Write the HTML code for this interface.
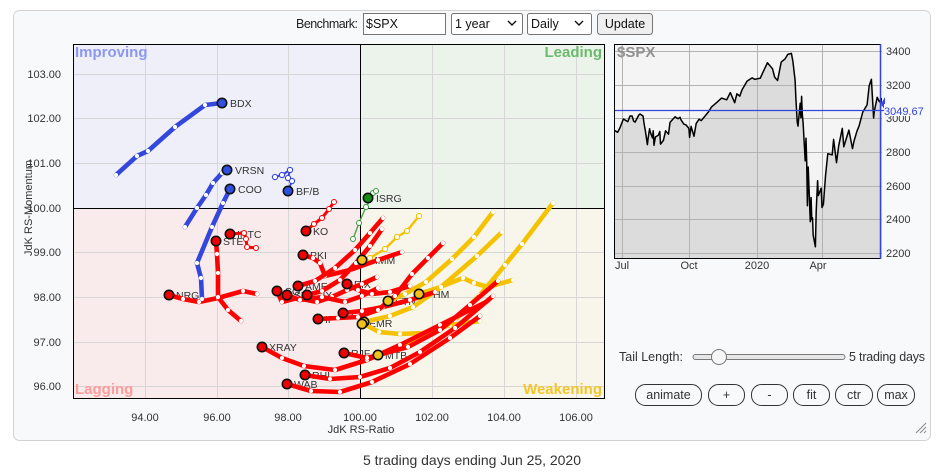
<!DOCTYPE html>
<html><head><meta charset="utf-8"><style>
html,body{margin:0;padding:0;background:#fff;}
svg{display:block;font-family:"Liberation Sans",Arial,sans-serif;}
.tb{fill:none;stroke:#3447dc;stroke-width:4.6;stroke-linecap:round;stroke-linejoin:round;marker-mid:url(#w);marker-end:url(#w);}
.tr{fill:none;stroke:#ff0000;stroke-width:4.6;stroke-linecap:round;stroke-linejoin:round;marker-mid:url(#w);marker-end:url(#w);}
.trm{fill:none;stroke:#ff0000;stroke-width:3;stroke-linecap:round;stroke-linejoin:round;marker-mid:url(#mr);marker-end:url(#mr);}
.ty{fill:none;stroke:#f4c200;stroke-width:4.6;stroke-linecap:round;stroke-linejoin:round;marker-mid:url(#w);marker-end:url(#w);}
.tym{fill:none;stroke:#f4c200;stroke-width:2.4;stroke-linecap:round;stroke-linejoin:round;marker-mid:url(#my);marker-end:url(#my);}
.tbt{fill:none;stroke:#3447dc;stroke-width:2;stroke-linecap:round;stroke-linejoin:round;marker-mid:url(#mb);marker-end:url(#mb);}
.tg{fill:none;stroke:#4aa84a;stroke-width:1.4;stroke-linecap:round;stroke-linejoin:round;marker-mid:url(#mg);marker-end:url(#mg);}
.hb{fill:#3050e0;stroke:#111;stroke-width:1.6;}
.hr{fill:#f00000;stroke:#111;stroke-width:1.6;}
.hy{fill:#f2c21a;stroke:#111;stroke-width:1.6;}
.hg{fill:#138c13;stroke:#111;stroke-width:1.6;}
.lb{font-size:10.5px;fill:#333;}
.tk{font-size:11px;fill:#333;}
.btn{fill:#f8f9fa;stroke:#333;stroke-width:1;}
.bt{font-size:12.5px;fill:#333;text-anchor:middle;}
</style></head><body>
<svg width="936" height="474" viewBox="0 0 936 474" xmlns="http://www.w3.org/2000/svg">
<defs>
<marker id="w" markerUnits="userSpaceOnUse" markerWidth="8" markerHeight="8" refX="4" refY="4" overflow="visible"><circle cx="4" cy="4" r="2.1" fill="#fff"/></marker>
<marker id="mr" markerUnits="userSpaceOnUse" markerWidth="8" markerHeight="8" refX="4" refY="4" overflow="visible"><circle cx="4" cy="4" r="2.5" fill="#fff" stroke="#ff0000" stroke-width="1"/></marker>
<marker id="my" markerUnits="userSpaceOnUse" markerWidth="8" markerHeight="8" refX="4" refY="4" overflow="visible"><circle cx="4" cy="4" r="2.6" fill="#fff" stroke="#f4c200" stroke-width="1.1"/></marker>
<marker id="mb" markerUnits="userSpaceOnUse" markerWidth="8" markerHeight="8" refX="4" refY="4" overflow="visible"><circle cx="4" cy="4" r="2.6" fill="#fff" stroke="#3447dc" stroke-width="1.1"/></marker>
<marker id="mg" markerUnits="userSpaceOnUse" markerWidth="8" markerHeight="8" refX="4" refY="4" overflow="visible"><circle cx="4" cy="4" r="2.5" fill="#fff" stroke="#3a9a3a" stroke-width="1"/></marker>
<clipPath id="pc"><rect x="73" y="44" width="531" height="355"/></clipPath>
<clipPath id="sc"><rect x="614" y="44" width="268" height="214"/></clipPath>
</defs>

<!-- container -->
<rect x="13.5" y="10.5" width="917" height="430" rx="6" fill="#f8f9fa" stroke="#d2d2d2"/>
<line x1="916" y1="433" x2="926" y2="423" stroke="#888" stroke-width="1"/>
<line x1="920" y1="433" x2="926" y2="427" stroke="#888" stroke-width="1"/>
<line x1="924" y1="433" x2="926" y2="431" stroke="#888" stroke-width="1"/>

<!-- benchmark row -->
<text x="296" y="28" font-size="12.5" fill="#222" textLength="62">Benchmark:</text>
<rect x="363.5" y="13.5" width="82" height="21" fill="#fff" stroke="#767676"/>
<text x="366" y="28" font-size="12.5" fill="#111">$SPX</text>
<rect x="451.5" y="13.5" width="71" height="21" rx="2" fill="#fff" stroke="#767676"/>
<text x="455" y="28" font-size="12.5" fill="#111">1 year</text>
<polyline points="508,21 512,25 516,21" fill="none" stroke="#111" stroke-width="1.4"/>
<rect x="527.5" y="13.5" width="64" height="21" rx="2" fill="#fff" stroke="#767676"/>
<text x="531" y="28" font-size="12.5" fill="#111">Daily</text>
<polyline points="575,21 579,25 583,21" fill="none" stroke="#111" stroke-width="1.4"/>
<rect x="597.5" y="13.5" width="55" height="21" rx="3" fill="#efefef" stroke="#767676"/>
<text x="625" y="28" font-size="12.5" fill="#111" text-anchor="middle">Update</text>

<!-- RRG quadrants -->
<rect x="73" y="44" width="287" height="164" fill="#eeeff8"/>
<rect x="360" y="44" width="244" height="164" fill="#ebf3eb"/>
<rect x="73" y="208" width="287" height="191" fill="#f9ebeb"/>
<rect x="360" y="208" width="244" height="191" fill="#f8f6ea"/>
<g stroke="#d6d6d6" stroke-width="1">
<line x1="145.5" y1="44" x2="145.5" y2="399"/>
<line x1="217.5" y1="44" x2="217.5" y2="399"/>
<line x1="288.5" y1="44" x2="288.5" y2="399"/>
<line x1="432.5" y1="44" x2="432.5" y2="399"/>
<line x1="504.5" y1="44" x2="504.5" y2="399"/>
<line x1="576.5" y1="44" x2="576.5" y2="399"/>
<line x1="73" y1="74.5" x2="604" y2="74.5"/>
<line x1="73" y1="118.5" x2="604" y2="118.5"/>
<line x1="73" y1="163.5" x2="604" y2="163.5"/>
<line x1="73" y1="252.5" x2="604" y2="252.5"/>
<line x1="73" y1="297.5" x2="604" y2="297.5"/>
<line x1="73" y1="342.5" x2="604" y2="342.5"/>
<line x1="73" y1="386.5" x2="604" y2="386.5"/>
</g>
<line x1="360.5" y1="44" x2="360.5" y2="399" stroke="#000"/>
<line x1="73" y1="208.5" x2="604" y2="208.5" stroke="#000"/>
<rect x="73.5" y="44.5" width="531" height="354" fill="none" stroke="#000"/>

<text x="75" y="57" font-size="15" font-weight="bold" fill="#8d97ee">Improving</text>
<text x="602" y="57" font-size="15" font-weight="bold" fill="#6cbb6c" text-anchor="end">Leading</text>
<text x="75" y="394" font-size="15" font-weight="bold" fill="#ff9b9b">Lagging</text>
<text x="602" y="394" font-size="15" font-weight="bold" fill="#f4c52a" text-anchor="end">Weakening</text>

<!-- y ticks -->
<g class="tk" text-anchor="end">
<text x="61" y="78">103.00</text>
<text x="61" y="122">102.00</text>
<text x="61" y="167">101.00</text>
<text x="61" y="212">100.00</text>
<text x="61" y="256">99.00</text>
<text x="61" y="301">98.00</text>
<text x="61" y="346">97.00</text>
<text x="61" y="390">96.00</text>
</g>
<text transform="translate(32,208) rotate(-90)" font-size="11" fill="#333" text-anchor="middle">JdK RS-Momentum</text>
<g class="tk" text-anchor="middle">
<text x="145" y="421">94.00</text>
<text x="217" y="421">96.00</text>
<text x="288" y="421">98.00</text>
<text x="360" y="421">100.00</text>
<text x="432" y="421">102.00</text>
<text x="504" y="421">104.00</text>
<text x="576" y="421">106.00</text>
<text x="361" y="433">JdK RS-Ratio</text>
</g>

<!-- labels -->
<g class="lb">
<text x="230" y="107">BDX</text>
<text x="235" y="174">VRSN</text>
<text x="238" y="193">COO</text>
<text x="296" y="195">BF/B</text>
<text x="376" y="202">ISRG</text>
<text x="237" y="238">INTC</text>
<text x="223" y="245">STE</text>
<text x="313" y="235">KO</text>
<text x="310" y="259">PKI</text>
<text x="176" y="299">NRG</text>
<text x="285" y="295">SO</text>
<text x="294" y="299">SYY</text>
<text x="305" y="290">AME</text>
<text x="320" y="299">JX</text>
<text x="354" y="288">EIX</text>
<text x="351" y="317">CI</text>
<text x="325" y="323">IP</text>
<text x="369" y="264">MMM</text>
<text x="395" y="305">ETN</text>
<text x="426" y="298">PHM</text>
<text x="369" y="327">EMR</text>
<text x="385" y="359">MTB</text>
<text x="269" y="351">XRAY</text>
<text x="351" y="357">RJF</text>
<text x="312" y="379">RHI</text>
<text x="294" y="388">WAB</text>
</g>

<g clip-path="url(#pc)">
<!-- yellow tails -->
<polyline class="tym" points="362,260 370,258 385,249 397,237 407,231 419,216"/>
<polyline class="ty" points="388,301 405,294 426,282 452,259 474,237 493,212"/>
<polyline class="ty" points="419,294 440,287 463,278 474,283 488,287 513,280"/>
<polyline class="ty" points="362,323 379,332 400,334 423,333 450,325 480,321"/>
<polyline class="ty" points="364,322 390,316 413,307 441,287 477,256 502,232"/>
<polyline class="ty" points="378,355 403,348 430,335 455,320 480,295 505,265 522,244 553,203"/>
<!-- red tails -->
<polyline class="tr" points="169,295 183,299 199,302 218,298 243,291 257,294"/>
<polyline class="tr" points="216,241 217,254 218,273 218,297 228,310 241,321"/>
<polyline class="trm" points="230,234 244,233 246,239 247,247 256,248"/>
<polyline class="trm" points="306,231 314,224 322,218 329,209 334,202"/>
<polyline class="tr" points="303,255 313,258 320,263 325,276 350,270 378,260 402,252"/>
<polyline class="tr" points="298,286 315,281 335,268 355,250 370,233 383,218"/>
<polyline class="tr" points="307,295 322,291 340,280 356,263 370,246 382,229"/>
<polyline class="tr" points="277,291 282,302 297,298 317,302 332,297 347,290 362,284 377,277"/>
<polyline class="tr" points="287,295 300,300 322,297 345,302 362,296 378,288"/>
<polyline class="tr" points="347,284 358,290 372,294 390,292 410,286"/>
<polyline class="tr" points="343,313 362,311 383,307 410,300 435,292"/>
<polyline class="tr" points="318,319 338,318 358,317 378,310 395,296 412,274 428,258 443,243"/>
<polyline class="tr" points="262,347 282,358 304,366 335,370 367,360 400,345 440,325 488,301"/>
<polyline class="tr" points="305,375 330,379 360,377 390,368 420,352 455,328 493,296"/>
<polyline class="tr" points="287,384 311,391 340,392 372,382 410,364 450,338 480,316"/>
<polyline class="tr" points="344,353 367,358 408,347 440,330 470,305 498,281"/>
<!-- blue tails -->
<polyline class="tb" points="222,103 205,105 175,127 148,151 137,156 116,175"/>
<polyline class="tb" points="227,170 222,173 213,183 206,195 197,208 185,227"/>
<polyline class="tb" points="230,189 223,203 212,227 197,263 201,278 202,299"/>
<polyline class="tbt" points="288,191 292,181 288,178 290,170 282,175 275,177"/>
<!-- green tail -->
<polyline class="tg" points="368,198 373,193 376,191 366,207 359,223 353,239"/>

<!-- heads -->
<circle class="hy" cx="362" cy="260" r="4.7"/>
<circle class="hy" cx="388" cy="301" r="4.7"/>
<circle class="hy" cx="419" cy="294" r="4.7"/>
<circle class="hy" cx="364" cy="322" r="4.7"/>
<circle class="hy" cx="362" cy="324" r="4.7"/>
<circle class="hy" cx="378" cy="355" r="4.7"/>
<circle class="hr" cx="169" cy="295" r="4.7"/>
<circle class="hr" cx="216" cy="241" r="4.7"/>
<circle class="hr" cx="230" cy="234" r="4.7"/>
<circle class="hr" cx="306" cy="231" r="4.7"/>
<circle class="hr" cx="303" cy="255" r="4.7"/>
<circle class="hr" cx="277" cy="291" r="4.7"/>
<circle class="hr" cx="307" cy="295" r="4.7"/>
<circle class="hr" cx="287" cy="295" r="4.7"/>
<circle class="hr" cx="298" cy="286" r="4.7"/>
<circle class="hr" cx="347" cy="284" r="4.7"/>
<circle class="hr" cx="343" cy="313" r="4.7"/>
<circle class="hr" cx="318" cy="319" r="4.7"/>
<circle class="hr" cx="262" cy="347" r="4.7"/>
<circle class="hr" cx="305" cy="375" r="4.7"/>
<circle class="hr" cx="287" cy="384" r="4.7"/>
<circle class="hr" cx="344" cy="353" r="4.7"/>
<circle class="hb" cx="222" cy="103" r="4.7"/>
<circle class="hb" cx="227" cy="170" r="4.7"/>
<circle class="hb" cx="230" cy="189" r="4.7"/>
<circle class="hb" cx="288" cy="191" r="4.7"/>
<circle class="hg" cx="368" cy="198" r="4.7"/>
</g>

<!-- right price chart -->
<rect x="614" y="44" width="266" height="214" fill="#f4f4f4"/>
<g clip-path="url(#sc)">
<polygon fill="#dcdcdc" points="614,130.1 617.6,132.3 619.8,128.1 623.4,119.0 627.8,121.7 630.0,116.0 632.1,116.0 633.6,121.0 635.1,122.2 638.7,115.1 640.1,114.0 643.1,116.1 643.8,121.7 644.5,126.1 645.2,129.8 647.4,144.6 648.1,138.4 649.6,128.8 650.3,132.1 652.5,138.0 653.2,130.8 654.0,145.3 655.4,137.0 658.3,135.2 659.8,131.5 660.5,144.1 663.4,140.4 665.6,130.8 668.5,134.2 670.0,122.4 675.1,116.8 678.0,118.7 680.1,117.3 680.9,119.7 683.8,124.1 686.0,124.9 688.9,128.4 689.6,137.4 691.1,126.4 694.0,136.3 696.2,123.4 699.1,119.2 701.2,120.7 706.3,114.5 708.5,111.8 711.4,107.1 716.5,102.7 721.6,98.1 726.7,99.8 730.3,92.6 734.7,102.7 736.9,93.8 739.8,96.1 742.0,89.9 747.1,81.1 752.1,77.9 755.1,79.4 757.2,78.8 760.2,78.3 762.3,73.7 767.4,62.8 772.5,68.7 774.7,77.3 777.6,80.5 781.2,62.1 784.9,59.1 787.8,54.4 791.4,53.4 792.9,61.4 795.1,80.3 795.8,96.8 797.2,121.9 798.0,126.1 800.2,103.2 800.9,117.8 801.6,96.4 802.3,114.3 803.1,123.0 805.2,160.9 806.0,138.2 806.7,161.9 807.4,205.7 808.2,167.0 810.3,221.7 811.1,197.6 811.8,219.7 812.5,217.8 813.2,235.3 815.4,246.8 816.2,211.4 817.6,180.6 818.3,195.6 821.2,188.2 822.0,207.5 823.4,204.3 825.6,174.9 827.8,153.7 832.2,154.9 833.6,139.4 836.5,162.6 838.7,145.8 842.3,128.4 843.8,146.8 848.9,130.1 852.5,148.6 854.0,141.2 856.9,131.3 859.1,125.9 862.7,112.3 867.1,104.7 869.2,85.7 871.4,79.3 873.6,118.0 874.3,111.4 877.2,97.3 879.4,101.8 881.6,98.6 883.1,109.9 883.8,104.4 883.8,258 614,258"/>
<g stroke="#b2b2b2" stroke-width="1">
<line x1="622.5" y1="44" x2="622.5" y2="258"/>
<line x1="689.5" y1="44" x2="689.5" y2="258"/>
<line x1="757.5" y1="44" x2="757.5" y2="258"/>
<line x1="822.5" y1="44" x2="822.5" y2="258"/>
<line x1="614" y1="51.5" x2="882" y2="51.5"/>
<line x1="614" y1="85.5" x2="882" y2="85.5"/>
<line x1="614" y1="118.5" x2="882" y2="118.5"/>
<line x1="614" y1="152.5" x2="882" y2="152.5"/>
<line x1="614" y1="186.5" x2="882" y2="186.5"/>
<line x1="614" y1="219.5" x2="882" y2="219.5"/>
<line x1="614" y1="253.5" x2="882" y2="253.5"/>
</g>
<polyline fill="none" stroke="#000" stroke-width="1.5" stroke-linejoin="round" points="614,130.1 617.6,132.3 619.8,128.1 623.4,119.0 627.8,121.7 630.0,116.0 632.1,116.0 633.6,121.0 635.1,122.2 638.7,115.1 640.1,114.0 643.1,116.1 643.8,121.7 644.5,126.1 645.2,129.8 647.4,144.6 648.1,138.4 649.6,128.8 650.3,132.1 652.5,138.0 653.2,130.8 654.0,145.3 655.4,137.0 658.3,135.2 659.8,131.5 660.5,144.1 663.4,140.4 665.6,130.8 668.5,134.2 670.0,122.4 675.1,116.8 678.0,118.7 680.1,117.3 680.9,119.7 683.8,124.1 686.0,124.9 688.9,128.4 689.6,137.4 691.1,126.4 694.0,136.3 696.2,123.4 699.1,119.2 701.2,120.7 706.3,114.5 708.5,111.8 711.4,107.1 716.5,102.7 721.6,98.1 726.7,99.8 730.3,92.6 734.7,102.7 736.9,93.8 739.8,96.1 742.0,89.9 747.1,81.1 752.1,77.9 755.1,79.4 757.2,78.8 760.2,78.3 762.3,73.7 767.4,62.8 772.5,68.7 774.7,77.3 777.6,80.5 781.2,62.1 784.9,59.1 787.8,54.4 791.4,53.4 792.9,61.4 795.1,80.3 795.8,96.8 797.2,121.9 798.0,126.1 800.2,103.2 800.9,117.8 801.6,96.4 802.3,114.3 803.1,123.0 805.2,160.9 806.0,138.2 806.7,161.9 807.4,205.7 808.2,167.0 810.3,221.7 811.1,197.6 811.8,219.7 812.5,217.8 813.2,235.3 815.4,246.8 816.2,211.4 817.6,180.6 818.3,195.6 821.2,188.2 822.0,207.5 823.4,204.3 825.6,174.9 827.8,153.7 832.2,154.9 833.6,139.4 836.5,162.6 838.7,145.8 842.3,128.4 843.8,146.8 848.9,130.1 852.5,148.6 854.0,141.2 856.9,131.3 859.1,125.9 862.7,112.3 867.1,104.7 869.2,85.7 871.4,79.3 873.6,118.0 874.3,111.4 877.2,97.3 879.4,101.8 881.6,98.6 883.1,109.9 883.8,104.4"/>
</g>
<line x1="614" y1="110.5" x2="884" y2="110.5" stroke="#3344dd" stroke-width="1.2"/>
<polyline points="614.5,258 614.5,44.5 880.5,44.5" fill="none" stroke="#000"/>
<line x1="614" y1="258.5" x2="880" y2="258.5" stroke="#000"/>
<line x1="880.5" y1="44" x2="880.5" y2="259" stroke="#3344dd" stroke-width="1.5"/>
<polygon points="881,104 885,97 885,110" fill="#3344dd"/>
<text x="617" y="57" font-size="15" font-weight="bold" fill="#909090">$SPX</text>
<g class="tk">
<text x="886" y="55">3400</text>
<text x="886" y="89">3200</text>
<text x="886" y="122">3000</text>
<text x="886" y="156">2800</text>
<text x="886" y="190">2600</text>
<text x="886" y="223">2400</text>
<text x="886" y="257">2200</text>
</g>
<rect x="884" y="104" width="42" height="12" fill="#f8f9fa"/>
<text x="884" y="115" font-size="11" fill="#3344dd">3049.67</text>
<g class="tk" text-anchor="middle">
<text x="622" y="269">Jul</text>
<text x="689" y="269">Oct</text>
<text x="757" y="269">2020</text>
<text x="818" y="269">Apr</text>
</g>

<!-- tail length -->
<text x="619" y="361" font-size="12.5" fill="#333">Tail Length:</text>
<rect x="693" y="354.5" width="152" height="5" rx="2.5" fill="#e6e6e6" stroke="#7a7a7a"/>
<circle cx="719" cy="357" r="7.5" fill="#f6f6f6" stroke="#777"/>
<text x="849" y="361" font-size="12.5" fill="#333" textLength="76">5 trading days</text>

<!-- buttons -->
<rect class="btn" x="635.5" y="384.5" width="66" height="21" rx="10"/>
<text class="bt" x="668.5" y="399">animate</text>
<rect class="btn" x="708.5" y="384.5" width="36" height="21" rx="10"/>
<text class="bt" x="726.5" y="399">+</text>
<rect class="btn" x="751.5" y="384.5" width="36" height="21" rx="10"/>
<text class="bt" x="769.5" y="399">-</text>
<rect class="btn" x="793.5" y="384.5" width="36" height="21" rx="10"/>
<text class="bt" x="811.5" y="399">fit</text>
<rect class="btn" x="835.5" y="384.5" width="37" height="21" rx="10"/>
<text class="bt" x="854" y="399">ctr</text>
<rect class="btn" x="877.5" y="384.5" width="37" height="21" rx="10"/>
<text class="bt" x="896" y="399">max</text>

<!-- footer -->
<text x="472" y="465" font-size="14" fill="#333" text-anchor="middle" textLength="218">5 trading days ending Jun 25, 2020</text>
</svg>
</body></html>
